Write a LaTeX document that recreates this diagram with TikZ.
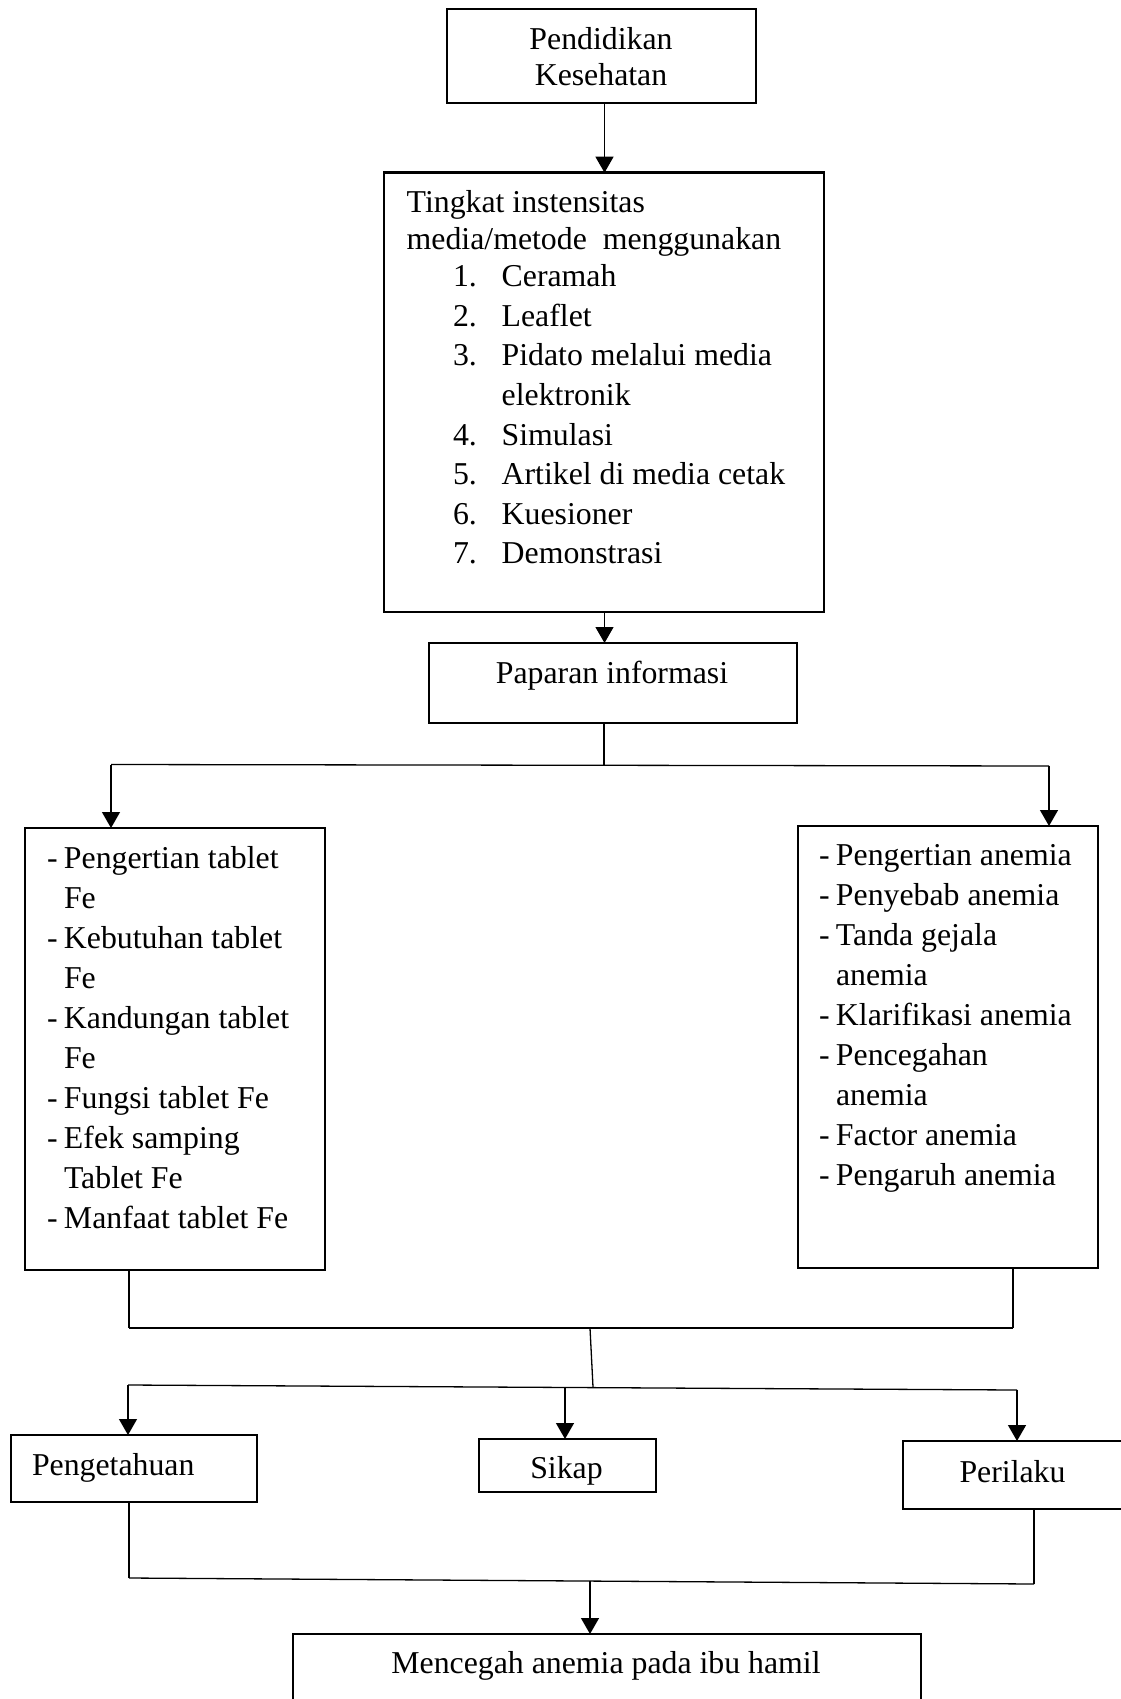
\documentclass[tikz,border=0pt]{standalone}
\usepackage{fontspec}
\setmainfont{Liberation Serif}
\usetikzlibrary{arrows.meta}
\newcommand\myline[1]{\hbox{#1}}
\newcommand\dashitem[1]{\hbox{\makebox[17pt][l]{-}#1}}
\newcommand\contitem[1]{\hbox{\hspace*{17pt}#1}}
\newcommand\numitem[2]{\hbox{\hspace*{46.3pt}\makebox[48.7pt][l]{#1}#2}}
\newcommand\centline[1]{\hbox to 0pt{\hss#1\hss}}
\begin{document}
\begin{tikzpicture}[x=1pt,y=-1pt,
  box/.style={draw, line width=1.3pt, inner sep=0pt, outer sep=0pt, anchor=north west},
  thickbox/.style={box, line width=2.7pt},
  midbox/.style={box, line width=2.3pt},
  txt/.style={inner sep=0pt, outer sep=0pt, anchor=base west, font=\fontsize{31.8}{39.6}\selectfont},
  ctxt/.style={txt, anchor=base},
  conn/.style={line width=1.3pt},
  arr/.style={conn, -{Triangle[length=16pt,width=18pt]}}]
\clip (0,0) rectangle (1121,1699);
\fill[white] (0,0) rectangle (1121,1699);

% boxes
\node[box, minimum width=309pt, minimum height=94pt] (pend) at (447,9) {};
\node[thickbox, minimum width=440pt, minimum height=439.3pt] (met) at (384,172.7) {};
\node[box, minimum width=368pt, minimum height=80pt] (pap) at (429,643) {};
\node[box, minimum width=300pt, minimum height=442pt] (boxL) at (25,828) {};
\node[box, minimum width=300pt, minimum height=442pt] (boxR) at (798,826) {};
\node[midbox, minimum width=246pt, minimum height=67pt] (peng) at (11,1435) {};
\node[box, minimum width=177pt, minimum height=53pt] (sikap) at (479,1439) {};
\node[midbox, minimum width=227pt, minimum height=68pt] (peril) at (903,1441) {};
\node[thickbox, minimum width=628pt, minimum height=90pt] (goal) at (293,1634) {};

% texts
\node[ctxt] (tpend) at (601,50) {\vtop{\baselineskip=36pt\centline{Pendidikan}\centline{Kesehatan}}};
\node[txt] (tmet) at (406.7,212.7) {\vtop{%
  \myline{Tingkat instensitas}\vskip-2.6pt
  \myline{media/metode\ \ menggunakan}\vskip-2.6pt
  \numitem{1.}{Ceramah}
  \numitem{2.}{Leaflet}
  \numitem{3.}{Pidato melalui media}
  \numitem{}{elektronik}
  \numitem{4.}{Simulasi}
  \numitem{5.}{Artikel di media cetak}
  \numitem{6.}{Kuesioner}
  \numitem{7.}{Demonstrasi}}};
\node[ctxt] (tpap) at (612,683) {Paparan informasi};
\node[txt] (tL) at (47,868.3) {\vtop{\baselineskip=40pt
  \dashitem{Pengertian tablet}
  \contitem{Fe}
  \dashitem{Kebutuhan tablet}
  \contitem{Fe}
  \dashitem{Kandungan tablet}
  \contitem{Fe}
  \dashitem{Fungsi tablet Fe}
  \dashitem{Efek samping}
  \contitem{Tablet Fe}
  \dashitem{Manfaat tablet Fe}}};
\node[txt] (tR) at (819,865.5) {\vtop{\baselineskip=40pt
  \dashitem{Pengertian anemia}
  \dashitem{Penyebab anemia}
  \dashitem{Tanda gejala}
  \contitem{anemia}
  \dashitem{Klarifikasi anemia}
  \dashitem{Pencegahan}
  \contitem{anemia}
  \dashitem{Factor anemia}
  \dashitem{Pengaruh anemia}}};
\node[txt] (tpeng) at (32,1475) {Pengetahuan};
\node[ctxt] (tsikap) at (566.5,1478) {Sikap};
\node[ctxt] (tperil) at (1012.5,1482.7) {Perilaku};
\node[ctxt] (tgoal) at (606,1673) {Mencegah anemia pada ibu hamil};

% connector coordinates
\coordinate (x1) at (604.5,0);
\coordinate (jA) at (604,765);
\coordinate (jL) at (111,764.5);
\coordinate (jR) at (1049,766);
\coordinate (kL) at (129,1328);
\coordinate (kR) at (1013,1328);
\coordinate (kM) at (590,1328);
\coordinate (mM) at (593,1387);
\coordinate (mL) at (128,1385);
\coordinate (mS) at (565,1388);
\coordinate (mR) at (1017,1390);
\coordinate (nL) at (129,1578);
\coordinate (nR) at (1034,1584);
\coordinate (nM) at (590,1581);

% connectors
\draw[arr] (pend.south -| x1) -- (met.north -| x1);
\draw[arr] (met.south -| x1) -- (pap.north -| x1);
\draw[conn] (pap.south -| jA) -- (jA);
\draw[conn] (jL) -- (jR);
\draw[arr] (jL) -- (boxL.north -| jL);
\draw[arr] (jR) -- (boxR.north -| jR);
\draw[conn] (boxL.south -| kL) -- (kL);
\draw[conn] (boxR.south -| kR) -- (kR);
\draw[conn] (kL) -- (kR);
\draw[conn] (kM) -- (mM);
\draw[conn] (mL) -- (mR);
\draw[arr] (mL) -- (peng.north -| mL);
\draw[arr] (mS) -- (sikap.north -| mS);
\draw[arr] (mR) -- (peril.north -| mR);
\draw[conn] (peng.south -| nL) -- (nL);
\draw[conn] (peril.south -| nR) -- (nR);
\draw[conn] (nL) -- (nR);
\draw[arr] (nM) -- (goal.north -| nM);
\end{tikzpicture}
\end{document}
